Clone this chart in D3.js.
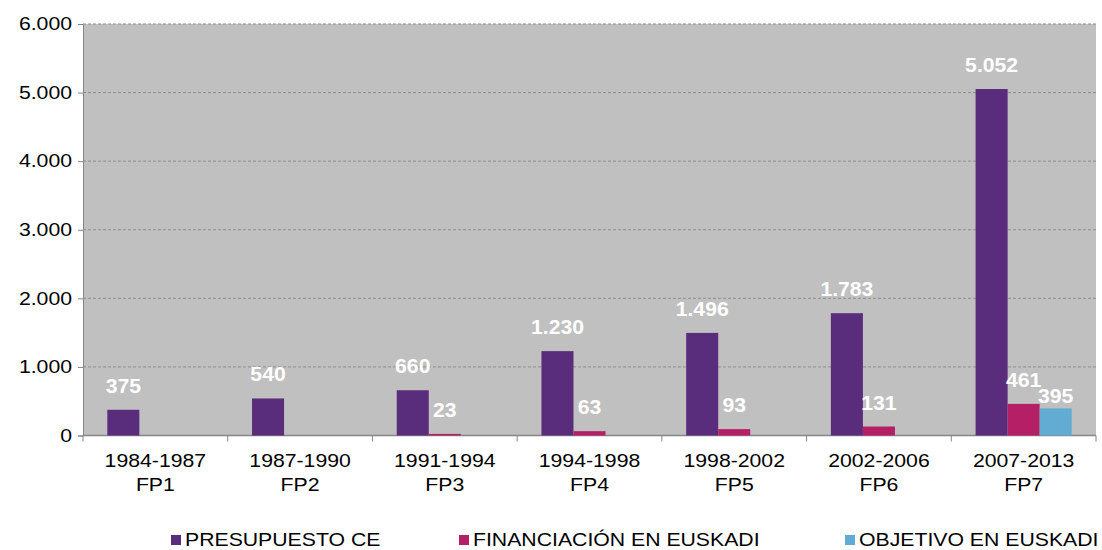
<!DOCTYPE html>
<html>
<head>
<meta charset="utf-8">
<script src="https://cdn.jsdelivr.net/npm/d3@7"></script>
<style>
  body { margin: 0; background: #fff; }
  svg { font-family: Arial, "Liberation Sans", sans-serif; }
</style>
</head>
<body>
<svg width="1102" height="550"></svg>
<script>
// periods on the x axis (two lines each)
let periods = ["1984-1987", "1987-1990", "1991-1994", "1994-1998", "1998-2002", "2002-2006", "2007-2013"]
let programmes = ["FP1", "FP2", "FP3", "FP4", "FP5", "FP6", "FP7"]

// series values (null = no bar)
let presupuesto = [375, 540, 660, 1230, 1496, 1783, 5052]
let financiacion = [null, null, 23, 63, 93, 131, 461]
let objetivo = [null, null, null, null, null, null, 395]

let seriesNames = ["PRESUPUESTO CE", "FINANCIACIÓN EN EUSKADI", "OBJETIVO EN EUSKADI"]
let yTicks = [0, 1000, 2000, 3000, 4000, 5000, 6000]

let colors = ["#5a2c7c", "#b41f65", "#62acd3"]

let svg = d3.select("svg")
let plotLeft = 83, plotRight = 1096, plotTop = 24, plotBottom = 435.5
// the original text is a bit wide, stretch it horizontally
let stretch = 1.18

let es = d3.formatLocale({ decimal: ",", thousands: ".", grouping: [3], currency: ["", " €"] })
let fmt = es.format(",d")

let xScale = d3.scaleBand().domain(d3.range(periods.length)).range([plotLeft, plotRight]).paddingInner(0).paddingOuter(0)
let inner = d3.scaleBand().domain([0, 1, 2]).range([0, xScale.bandwidth() * 0.664])
let groupOffset = xScale.bandwidth() * (1 - 0.664) / 2

let yScale = d3.scaleLinear().domain([0, 6000]).range([plotBottom, plotTop])

// plot background
svg.append("rect")
   .attr("x", plotLeft).attr("y", plotTop)
   .attr("width", plotRight - plotLeft).attr("height", plotBottom - plotTop)
   .attr("fill", "#c0c0c0")

// gridlines
svg.append("g").selectAll("line")
   .data(yTicks.slice(1))
   .enter().append("line")
   .attr("x1", plotLeft).attr("x2", plotRight)
   .attr("y1", d => yScale(d)).attr("y2", d => yScale(d))
   .attr("stroke", "#8e8e8e")
   .attr("stroke-dasharray", "3,2")

// y axis
let yAxis = d3.axisLeft(yScale).tickValues(yTicks).tickFormat(fmt).tickSize(5).tickPadding(6)
let gy = svg.append("g").attr("transform", "translate(" + plotLeft + ",0)").call(yAxis)
gy.select(".domain").attr("stroke", "#868686")
gy.selectAll(".tick line").attr("stroke", "#868686")
gy.selectAll("text")
  .attr("font-size", 18).attr("fill", "#000")
  .attr("font-family", "Arial, 'Liberation Sans', sans-serif")
  .attr("x", -11 / stretch)
  .attr("transform", "scale(" + stretch + ",1)")

// x axis line and ticks at category boundaries
svg.append("line")
   .attr("x1", plotLeft).attr("x2", plotRight)
   .attr("y1", plotBottom).attr("y2", plotBottom)
   .attr("stroke", "#868686").attr("stroke-width", 1.5)
svg.append("g").selectAll("line")
   .data(d3.range(periods.length + 1))
   .enter().append("line")
   .attr("x1", i => plotLeft + i * xScale.step()).attr("x2", i => plotLeft + i * xScale.step())
   .attr("y1", plotBottom).attr("y2", plotBottom + 6)
   .attr("stroke", "#868686")

let xl = svg.append("g").selectAll("text")
   .data(periods)
   .enter().append("text")
   .attr("transform", (d, i) => "translate(" + (xScale(i) + xScale.bandwidth() / 2) + ",467) scale(" + stretch + ",1)")
   .attr("text-anchor", "middle")
   .attr("font-size", 18)
   .attr("fill", "#000")
xl.append("tspan").attr("x", 0).text(d => d)
xl.append("tspan")
  .attr("x", 0)
  .attr("dy", 24)
  .text((d, i) => programmes[i])

// bars
let allSeries = [presupuesto, financiacion, objetivo]
let labelLift = [17, 17, 5]
allSeries.forEach((vals, s) => {
  let items = vals.map((v, i) => ({ v: v, i: i })).filter(d => d.v !== null)
  svg.append("g").selectAll("rect")
     .data(items)
     .enter().append("rect")
     .attr("x", d => xScale(d.i) + groupOffset + inner(s))
     .attr("width", inner.bandwidth())
     .attr("y", d => yScale(d.v))
     .attr("height", d => plotBottom - yScale(d.v))
     .attr("fill", colors[s])
  svg.append("g").selectAll("text")
     .data(items)
     .enter().append("text")
     .attr("transform", d => "translate(" + (xScale(d.i) + groupOffset + inner(s) + inner.bandwidth() / 2) + "," + (yScale(d.v) - labelLift[s]) + ") scale(1.06,1)")
     .attr("text-anchor", "middle")
     .attr("font-size", 20)
     .attr("font-weight", "bold")
     .attr("fill", "#fff")
     .text(d => fmt(d.v))
})

// legend
let legendX = [171, 459, 845]
let lg = svg.append("g").selectAll("g")
   .data(seriesNames)
   .enter().append("g")
   .attr("transform", (d, i) => "translate(" + legendX[i] + ",535)")
lg.append("rect").attr("width", 10).attr("height", 10).attr("fill", (d, i) => colors[i])
lg.append("text")
  .attr("transform", "translate(14,11) scale(" + stretch + ",1)")
  .attr("font-size", 18).attr("fill", "#000").text(d => d)
</script>
</body>
</html>
